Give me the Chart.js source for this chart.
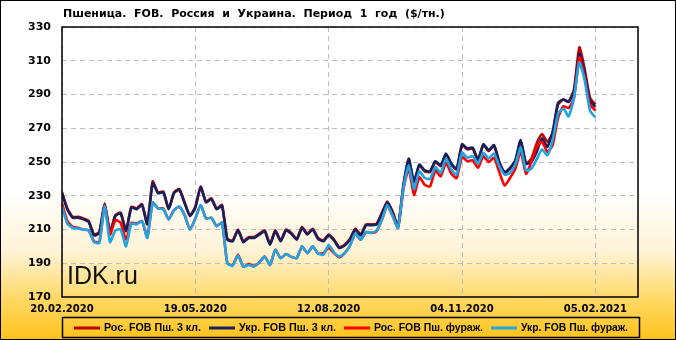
<!DOCTYPE html>
<html lang="ru">
<head>
<meta charset="UTF-8">
<title>Пшеница. FOB. Россия и Украина</title>
<script src="https://cdn.jsdelivr.net/npm/chart.js"></script>
<style>
    html, body { margin: 0; padding: 0; background: #fff; }
    #wrap { width: 676px; height: 340px; position: relative; }
</style>
</head>
<body>
<div id="wrap"><canvas id="wheatChart"></canvas></div>
<script>
    // Tick labels under the x axis (one every 25 points)
    var tickLabels = ['20.02.2020', '19.05.2020', '12.08.2020', '04.11.2020', '05.02.2021'];
    var yTicks = [170, 190, 210, 230, 250, 270, 290, 310, 330];

    // Рос. FOB Пш. 3 кл.
    var rusClass3 = [232, 222.5, 217.5, 217.5, 216.5, 215, 207, 208.5, 225.5, 208.5,
        218.5, 220, 209.5, 223.5, 222.5, 225, 213.5, 238.5, 232, 232.5,
        222.5, 232, 234, 226, 218.5, 223.5, 235.5, 226.5, 228.5, 222.5,
        224.5, 204.5, 203.5, 210, 203, 205.5, 205.5, 207.5, 209.5, 201.5,
        209.5, 203.5, 210, 208, 204.5, 211.5, 207.5, 210.5, 205, 203.5,
        207, 204, 199.5, 201, 204.5, 210.5, 207, 213, 213, 213.5,
        220, 226.5, 220.5, 212, 235.5, 251.5, 238, 248, 244.5, 244,
        250, 247.5, 254.5, 248.5, 245.5, 260, 257.5, 258, 251, 260,
        256.5, 259.5, 249.5, 243.5, 246, 250.5, 262.5, 249, 252, 261,
        266.5, 262, 267, 284, 287, 286, 293, 318, 305, 288, 284];

    // Укр. FOB Пш. 3 кл.
    var ukrClass3 = [231.5, 222, 217, 217, 216, 214.5, 206.5, 208, 225, 208,
        218, 219.5, 209, 223, 222, 224.5, 213, 237.5, 231.5, 232,
        222, 231.5, 233.5, 225.5, 218, 223, 235, 226, 228, 222,
        224, 204, 203, 209.5, 202.5, 205, 205, 207, 209, 201,
        209, 203, 209.5, 207.5, 204, 211, 207, 210, 204.5, 203,
        206.5, 203.5, 199, 200.5, 204, 210, 206.5, 212.5, 212.5, 213,
        219.5, 226, 220, 211.5, 236, 252, 238.5, 248.5, 245, 244.5,
        250.5, 248, 255, 249, 246, 260.5, 258, 258.5, 251.5, 260.5,
        257, 260, 250, 244, 246.5, 251, 263, 249, 250, 256,
        264, 259, 268, 285, 287, 285.5, 292, 314, 303, 286.5, 282.5];

    // Рос. FOB Пш. фураж.
    var rusFeed = [225.5, 215, 211.5, 211, 210, 209.5, 203, 202.5, 224, 207,
        215.5, 214, 204, 214, 213.5, 215, 205.5, 226, 222.5, 222.5,
        216, 221.5, 223.5, 218.5, 210, 216.5, 224.5, 216.5, 217, 212,
        214, 190, 189, 195, 188, 189.5, 188.5, 190.5, 194, 189,
        198, 193, 195.5, 193.8, 193, 200, 196, 200, 195.8, 196,
        199, 196, 193.5, 196, 200.5, 207.5, 204, 208.5, 208, 209,
        216, 224, 218, 211, 233.5, 246, 230.5, 241, 236.5, 235.5,
        245, 241.5, 249.5, 243, 240.5, 253, 250.5, 251, 246.5, 253.5,
        250, 252.5, 244, 236, 240.5, 246, 256, 243, 250, 259,
        262, 256, 260, 276, 283, 282, 288, 312, 300, 284, 280.5];

    // Укр. FOB Пш. фураж.
    var ukrFeed = [223.5, 213.5, 211, 210.5, 210, 209.5, 202.5, 202, 224, 202.5,
        209.5, 210, 200, 213.5, 213, 215, 205, 226, 222.5, 222,
        216, 221.5, 223.5, 218.5, 210, 216.5, 224.5, 216.5, 217, 212,
        214, 190, 188.5, 194.5, 188, 189, 188, 190.5, 194, 189,
        198, 193, 195.5, 193.8, 193, 200, 196, 200, 195.8, 195,
        200.8, 196.5, 194, 196, 200.5, 207.5, 204, 208.5, 208, 209.5,
        216, 224.5, 218, 211, 234, 248, 234, 244.5, 240.5, 240,
        247, 243.5, 252, 245.5, 242.5, 255.5, 252.5, 253.5, 249, 255.5,
        252, 255, 247.5, 242.5, 243.5, 248.5, 258.5, 245, 246, 251.5,
        257.5, 254, 263, 278.5, 281.7, 277, 288, 309, 298.5, 280.5, 276.5];

    var seriesNames = ['Рос. FOB Пш. 3 кл.', 'Укр. FOB Пш. 3 кл.', 'Рос. FOB Пш. фураж.', 'Укр. FOB Пш. фураж.'];
    var seriesColors = ['#c00000', '#15215c', '#ff0000', '#1ea5e4'];
    var seriesValues = [rusClass3, ukrClass3, rusFeed, ukrFeed];

    var tickStep = 25;

    function toPoints(arr) {
        return arr.map(function (v, i) { return { x: i, y: v }; });
    }

    // background, frame, title, watermark and legend box
    var framePlugin = {
        id: 'frame',
        beforeDraw: function (chart) {
            var ctx = chart.ctx;
            var g = ctx.createLinearGradient(0, 0, 0, chart.height);
            g.addColorStop(0, '#ffffff');
            g.addColorStop(0.56, '#ffffff');
            g.addColorStop(0.74, '#fff3d6');
            g.addColorStop(0.88, '#ffd864');
            g.addColorStop(1, '#ffc21a');
            ctx.save();
            ctx.fillStyle = g;
            ctx.fillRect(0, 0, chart.width, chart.height);
            ctx.restore();
        },
        afterDraw: function (chart) {
            var ctx = chart.ctx;
            var a = chart.chartArea;
            ctx.save();

            // plot border
            ctx.strokeStyle = '#000';
            ctx.lineWidth = 1.5;
            ctx.strokeRect(a.left, a.top, a.right - a.left, a.bottom - a.top);

            // outer frame
            ctx.lineWidth = 1;
            ctx.strokeRect(0.5, 0.5, chart.width - 1, chart.height - 1);

            // title
            ctx.fillStyle = '#000';
            ctx.font = 'bold 11px "DejaVu Sans"';
            ctx.textBaseline = 'middle';
            ctx.textAlign = 'left';
            ctx.fillText('Пшеница.  FOB.  Россия  и  Украина.  Период  1  год  ($/тн.)', 63, 14, 384);

            // watermark
            ctx.fillStyle = '#111';
            ctx.font = '25px "Liberation Sans"';
            ctx.textBaseline = 'alphabetic';
            ctx.fillText('IDK.ru', 67, 284);

            // legend
            ctx.lineWidth = 1.5;
            ctx.strokeRect(62.5, 317.5, 577, 20);
            var startX = [74, 209, 344, 491];
            var nextX = [209, 344, 491, 636];
            ctx.font = 'bold 11px "Liberation Sans"';
            ctx.textBaseline = 'middle';
            chart.data.datasets.forEach(function (ds, i) {
                var y = 328;
                ctx.strokeStyle = ds.borderColor;
                ctx.lineWidth = 3;
                ctx.beginPath();
                ctx.moveTo(startX[i], y);
                ctx.lineTo(startX[i] + 26, y);
                ctx.stroke();
                ctx.fillStyle = '#000';
                ctx.fillText(ds.label, startX[i] + 30, y, nextX[i] - startX[i] - 38);
            });
            ctx.restore();
        }
    };

    var ctx = document.getElementById('wheatChart').getContext('2d');
    var chart = new Chart(ctx, {
        type: 'line',
        data: {
            datasets: seriesValues.map(function (vals, i) {
                return {
                    label: seriesNames[i],
                    data: toPoints(vals),
                    borderColor: seriesColors[i],
                    backgroundColor: seriesColors[i],
                    borderWidth: 2.6,
                    pointRadius: 0,
                    tension: 0.18,
                    fill: false,
                    order: 4 - i
                };
            })
        },
        options: {
            responsive: true,
            maintainAspectRatio: false,
            animation: false,
            devicePixelRatio: 1,
            layout: { padding: { top: 27, right: 38, left: 0, bottom: 0 } },
            plugins: {
                legend: { display: false },
                title: { display: false },
                tooltip: { enabled: false }
            },
            scales: {
                x: {
                    type: 'linear',
                    min: 0,
                    max: 108,
                    afterFit: function (s) { s.height = 43; },
                    grid: { color: '#bdbdbd', lineWidth: 1, drawTicks: false },
                    border: { display: false, dash: [5, 4] },
                    ticks: {
                        stepSize: tickStep,
                        includeBounds: false,
                        maxRotation: 0,
                        autoSkip: false,
                        padding: 6,
                        color: '#000',
                        font: { family: 'DejaVu Sans', size: 10, weight: 'bold' },
                        callback: function (v) {
                            return v % tickStep === 0 ? tickLabels[v / tickStep] : '';
                        }
                    }
                },
                y: {
                    min: yTicks[0],
                    max: yTicks[yTicks.length - 1],
                    afterFit: function (s) { s.width = 62; },
                    grid: { color: '#bdbdbd', lineWidth: 1, drawTicks: false },
                    border: { display: false, dash: [5, 4] },
                    ticks: {
                        stepSize: yTicks[1] - yTicks[0],
                        padding: 11,
                        color: '#000',
                        font: { family: 'DejaVu Sans', size: 11, weight: 'bold' }
                    }
                }
            }
        },
        plugins: [framePlugin]
    });
</script>
</body>
</html>
